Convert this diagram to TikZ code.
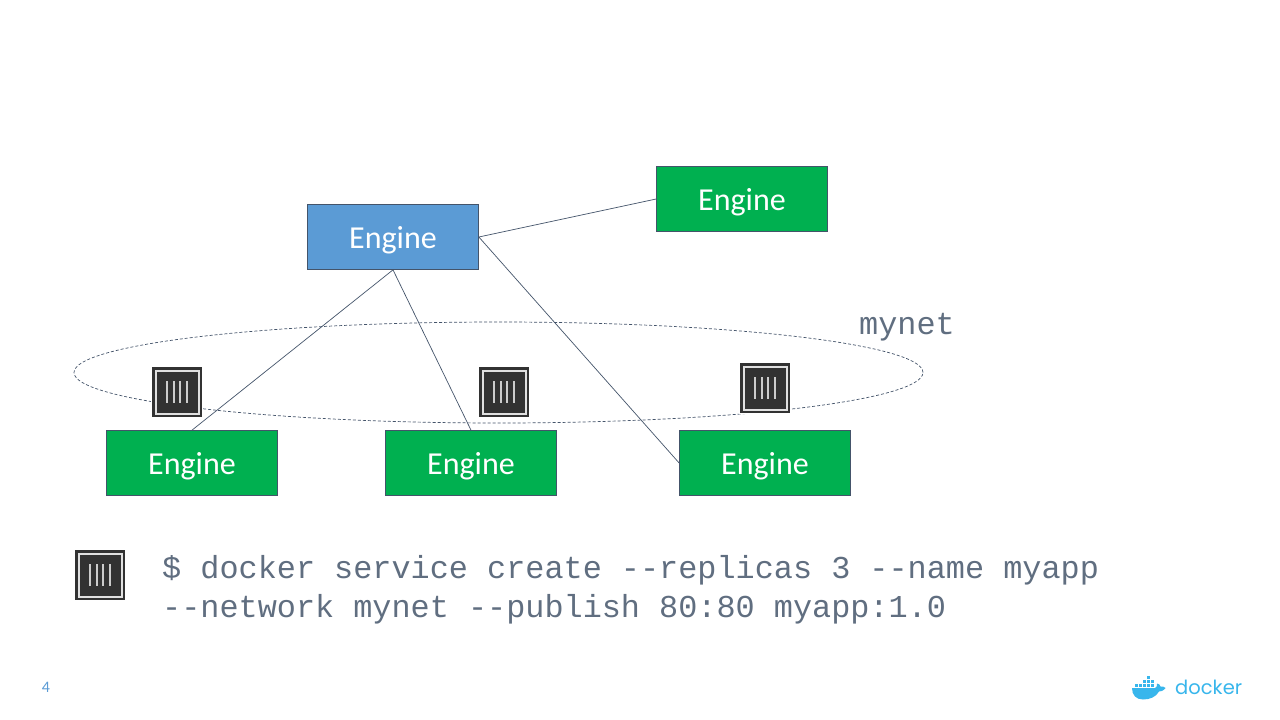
\documentclass[tikz,border=0pt]{standalone}
\usepackage{fontspec}
\setmainfont{Carlito}
\newfontfamily\codefont{Liberation Mono}
\newfontfamily\logofont{Poppins}
\usetikzlibrary{positioning, shapes.geometric}
\definecolor{slate}{HTML}{44546A}
\definecolor{enginegreen}{HTML}{00B050}
\definecolor{engineblue}{HTML}{5B9BD5}
\definecolor{icondark}{HTML}{323232}
\definecolor{whaleblue}{HTML}{38B6EC}

\begin{document}
\begin{tikzpicture}[
    x=1pt, y=-1pt,
    engine/.style={rectangle, draw=slate, line width=0.7pt, minimum width=171pt, minimum height=65pt,
                   fill=enginegreen, text=white, text height=25pt, text depth=3pt,
                   font=\fontsize{32}{38}\selectfont},
    link/.style={draw=slate, line width=0.7pt},
    code/.style={text=slate!85!white, inner sep=0pt, font=\codefont\fontsize{31.86}{39}\selectfont},
    ctr/.pic={
        \fill[white] (-26,-26) rectangle (26,26);
        \fill[icondark] (-25,-25) rectangle (25,25);
        \fill[white!88!black] (-22.5,-22.5) rectangle (22.5,22.5);
        \fill[icondark] (-20.5,-20.5) rectangle (20.5,20.5);
        \foreach \barx in {-10,-3.3,3.3,10}
            \draw[white!80!black, line width=2pt] (\barx,-11) -- (\barx,11);
    }
]
    \useasboundingbox (0,0) rectangle (1280,720);
    \fill[white] (0,0) rectangle (1280,720);

    % Network
    \node[ellipse, draw=slate, densely dashed, line width=0.7pt, minimum width=849pt, minimum height=101pt,
          inner sep=0pt] (net) at (498.5,372.5) {};
    \node[code, anchor=base west] (netlabel) at (859,334) {mynet};

    % Engines
    \node[engine, fill=engineblue] (mgr) at (393,237) {Engine};
    \node[engine] (top) at (742,199) {Engine};
    \node[engine] (w1) at (192,463) {Engine};
    \node[engine] (w2) at (471,463) {Engine};
    \node[engine] (w3) at (765,463) {Engine};

    % Links
    \draw[link] (mgr.east) -- (top.west);
    \draw[link] (mgr.south) -- (w1.north);
    \draw[link] (mgr.south) -- (w2.north);
    \draw[link] (mgr.east) -- (w3.west);

    % Containers
    \pic at (177,392) {ctr};
    \pic at (504,392) {ctr};
    \pic at (765,388) {ctr};
    \pic at (100,575) {ctr};

    % Command
    \node[code, anchor=base west] (cmd1) at (162,578) {\$ docker service create --replicas 3 --name myapp};
    \node[code, anchor=base west] (cmd2) at (162,617) {--network mynet --publish 80:80 myapp:1.0};

    % Page number
    \node[text=engineblue, inner sep=0pt, font=\fontsize{16}{19}\selectfont] (page) at (46,687) {4};

    % Logo
    \fill[whaleblue] (1132,688) -- (1155,688) .. controls (1157,688) and (1157.5,685) .. (1157,683.5)
        .. controls (1159,683.5) and (1160,685) .. (1160.5,686.5)
        .. controls (1162,686) and (1164,686.5) .. (1165.5,688)
        .. controls (1163,691) and (1161,691.5) .. (1159,691.5)
        .. controls (1156,697) and (1150,699.5) .. (1143,699.5)
        .. controls (1136,699.5) and (1132,695) .. (1132,688) -- cycle;
    \foreach \boxx/\boxy in {1135/684,1139/684,1143/684,1147/684,1151/684,1143/680,1147/680,1151/680,1147/676}
        \fill[whaleblue] (\boxx,\boxy) rectangle ++(3.2,3.2);
    \node[text=whaleblue, inner sep=0pt, anchor=base west, font=\logofont\fontsize{19.5}{24}\selectfont] (logo) at (1175,694.5) {docker};
\end{tikzpicture}
\end{document}
